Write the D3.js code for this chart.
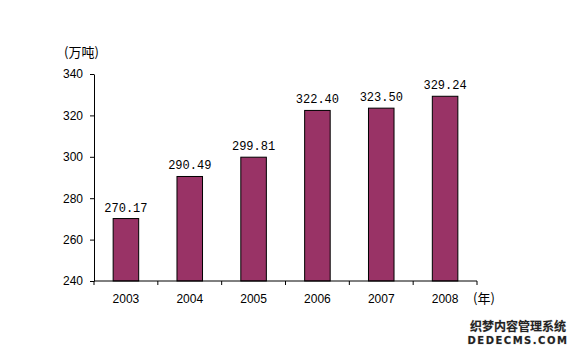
<!DOCTYPE html>
<html><head><meta charset="utf-8">
<script src="https://cdn.jsdelivr.net/npm/d3@7"></script>
<style>body{margin:0;background:#fff}svg{display:block}</style>
</head><body>
<svg id="c" width="578" height="358"></svg>
<script>
const years = ["2003","2004","2005","2006","2007","2008"];
const values = [270.17, 290.49, 299.81, 322.40, 323.50, 329.24];
const valueLabels = ["270.17","290.49","299.81","322.40","323.50","329.24"];
const yTicks = [240, 260, 280, 300, 320, 340];

const svg = d3.select("#c");
const x = d3.scaleBand().domain(years).range([94, 477]).paddingInner(0.6).paddingOuter(0.3);
const y = d3.scaleLinear().domain([240, 340]).range([281, 74]);

// bars
svg.selectAll("rect.bar").data(values).enter().append("rect")
  .attr("x", (d,i)=>x(years[i])).attr("width", x.bandwidth())
  .attr("y", d=>y(d)).attr("height", d=>y(240)-y(d))
  .attr("fill", "#993366").attr("stroke", "#000").attr("stroke-width", 1);

// value labels
svg.selectAll("text.val").data(values).enter().append("text")
  .attr("x", (d,i)=>x(years[i]) + x.bandwidth()/2)
  .attr("y", d=>y(d) - 7)
  .attr("text-anchor", "middle")
  .attr("font-family", "Liberation Mono, DejaVu Sans Mono, monospace")
  .attr("font-size", 12).attr("fill", "#000")
  .text((d,i)=>valueLabels[i]);

// y axis
const ya = svg.append("g").attr("transform", "translate(94,0)")
  .call(d3.axisLeft(y).tickValues(yTicks).tickSize(4).tickSizeOuter(0).tickFormat(d3.format("d")));
ya.select(".domain").attr("stroke", "#000");
ya.selectAll("text").attr("font-family", "Arial, Liberation Sans, sans-serif").attr("font-size", 12).attr("fill", "#000").attr("dx", -4);

// x axis with boundary ticks
const xa = svg.append("g").attr("transform", "translate(0,281)");
xa.append("line").attr("x1", 94).attr("x2", 477).attr("stroke", "#000");
const step = x.step();
const bounds = d3.range(years.length + 1).map(i => 94 + i * (383 / years.length));
xa.selectAll("line.tk").data(bounds).enter().append("line")
  .attr("x1", d=>d).attr("x2", d=>d).attr("y1", 0).attr("y2", 4).attr("stroke", "#000");
xa.selectAll("text").data(years).enter().append("text")
  .attr("x", (d,i)=>(bounds[i]+bounds[i+1])/2).attr("y", 22)
  .attr("text-anchor", "middle")
  .attr("font-family", "Arial, Liberation Sans, sans-serif").attr("font-size", 12).attr("fill", "#000")
  .text(d=>d);

// unit labels
svg.append("text").attr("x", 64).attr("y", 57)
  .attr("font-family", "Noto Sans CJK SC, sans-serif").attr("font-size", 13).attr("fill", "#000").text("(万吨)");
svg.append("text").attr("x", 473).attr("y", 303)
  .attr("font-family", "Noto Sans CJK SC, sans-serif").attr("font-size", 13).attr("fill", "#000").text("(年)");

// watermark
const wm = svg.append("g");
wm.append("text").attr("x", 518).attr("y", 331).attr("text-anchor", "middle")
  .attr("font-family", "Noto Sans CJK SC, sans-serif").attr("font-size", 12).attr("font-weight", "bold")
  .attr("fill", "#222").attr("stroke", "#ccc").attr("stroke-width", 0.6).attr("paint-order", "stroke")
  .text("织梦内容管理系统");
wm.append("text").attr("x", 518).attr("y", 344).attr("text-anchor", "middle")
  .attr("font-family", "DejaVu Sans, sans-serif").attr("font-size", 10).attr("font-weight", "bold")
  .attr("letter-spacing", 1.5)
  .attr("fill", "#222").attr("stroke", "#ccc").attr("stroke-width", 0.6).attr("paint-order", "stroke")
  .text("DEDECMS.COM");
</script>
</body></html>
